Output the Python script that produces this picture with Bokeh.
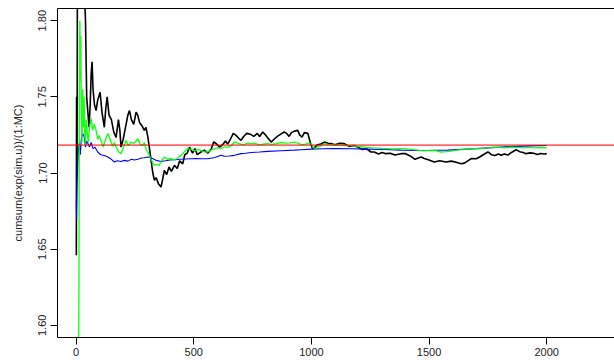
from bokeh.plotting import figure
from bokeh.models import LinearAxis, FixedTicker, Range1d, Span
from bokeh.embed import file_html
from bokeh.resources import INLINE

# ---- data (index, running mean) ----
black_i = [1, 2, 4, 6, 10, 15, 20, 25, 30, 35, 40, 43, 45, 50, 55, 60, 64, 68, 72, 78, 85, 92, 102, 110, 120, 126,
           132, 140, 150, 160, 170, 180, 186, 191, 200, 210, 220, 227, 235, 245, 255, 262, 270, 280, 290, 297, 305,
           312, 319, 326, 333, 340, 350, 361, 368, 375, 385, 395, 405, 418, 430, 440, 453, 462, 472, 482, 495, 505,
           515, 531, 545, 560, 575, 585, 595, 610, 625, 635, 644, 655, 668, 680, 690, 701, 712, 725, 740, 755, 770,
           780, 793, 805, 815, 829, 840, 855, 870, 884, 895, 905, 915, 928, 942, 950, 960, 970, 985, 995, 1005, 1012,
           1025, 1040, 1055, 1070, 1083, 1100, 1120, 1140, 1160, 1180, 1197, 1215, 1235, 1253, 1267, 1285, 1300, 1317,
           1335, 1355, 1381, 1400, 1420, 1440, 1466, 1480, 1500, 1522, 1545, 1572, 1595, 1615, 1636, 1650, 1665, 1680,
           1700, 1715, 1730, 1750, 1765, 1780, 1795, 1806, 1820, 1835, 1850, 1870, 1885, 1900, 1912, 1930, 1945, 1960,
           1975, 1990, 2000]
black_v = [1.646, 1.750, 1.700, 1.860, 1.920, 1.880, 1.840, 1.830, 1.860, 1.820, 1.800, 1.770, 1.750, 1.740, 1.730,
           1.745, 1.765, 1.773, 1.755, 1.745, 1.741, 1.748, 1.753, 1.740, 1.730, 1.742, 1.750, 1.738, 1.735, 1.727,
           1.7234, 1.735, 1.728, 1.717, 1.722, 1.730, 1.738, 1.741, 1.735, 1.732, 1.740, 1.738, 1.733, 1.731, 1.728,
           1.730, 1.7236, 1.716, 1.708, 1.700, 1.6952, 1.697, 1.693, 1.6908, 1.696, 1.7017, 1.699, 1.704, 1.701,
           1.705, 1.703, 1.708, 1.706, 1.712, 1.713, 1.717, 1.713, 1.716, 1.712, 1.7138, 1.715, 1.713, 1.716, 1.7205,
           1.7193, 1.717, 1.719, 1.721, 1.719, 1.722, 1.726, 1.7247, 1.723, 1.7214, 1.724, 1.726, 1.7255, 1.724, 1.726,
           1.724, 1.7269, 1.725, 1.723, 1.7203, 1.722, 1.724, 1.7255, 1.7269, 1.726, 1.724, 1.7265, 1.7275, 1.728,
           1.725, 1.7235, 1.7265, 1.726, 1.720, 1.716, 1.7165, 1.7185, 1.719, 1.7203, 1.7195, 1.7193, 1.7185, 1.7195,
           1.7193, 1.7175, 1.718, 1.717, 1.7155, 1.7158, 1.7138, 1.7138, 1.7125, 1.7135, 1.7127, 1.713, 1.7118,
           1.7127, 1.7127, 1.7112, 1.709, 1.7105, 1.7095, 1.7085, 1.7072, 1.708, 1.7072, 1.7078, 1.707, 1.7061,
           1.7065, 1.708, 1.7095, 1.7094, 1.7105, 1.712, 1.7138, 1.712, 1.7115, 1.7125, 1.7116, 1.7125, 1.7118,
           1.7135, 1.7153, 1.714, 1.7135, 1.7127, 1.7132, 1.713, 1.7122, 1.7128, 1.7125, 1.7127]

green_i = [1, 3, 6, 9, 12, 14, 16, 18, 20, 22, 25, 28, 31, 34, 37, 40, 43, 47, 52, 57, 64, 70, 77, 85, 92, 98, 106,
           115, 125, 135, 145, 155, 163, 170, 180, 191, 200, 212, 222, 234, 245, 255, 262, 272, 282, 290, 297, 305,
           315, 325, 333, 345, 353, 362, 375, 390, 405, 420, 433, 446, 460, 474, 490, 505, 520, 540, 560, 580, 600,
           615, 629, 644, 660, 673, 693, 710, 727, 744, 760, 780, 800, 814, 830, 850, 871, 890, 910, 928, 945, 960,
           975, 990, 1000, 1008, 1020, 1030, 1042, 1055, 1070, 1090, 1110, 1130, 1150, 1168, 1190, 1210, 1235, 1260,
           1285, 1305, 1324, 1350, 1375, 1400, 1425, 1450, 1475, 1500, 1522, 1550, 1575, 1600, 1625, 1650, 1675,
           1700, 1721, 1750, 1775, 1800, 1825, 1848, 1875, 1900, 1925, 1950, 1975, 2000]
green_v = [1.40, 1.45, 1.50, 1.55, 1.62, 1.75, 1.80, 1.76, 1.79, 1.74, 1.72, 1.755, 1.73, 1.75, 1.725, 1.718, 1.735,
           1.727, 1.720, 1.730, 1.7358, 1.728, 1.732, 1.728, 1.722, 1.7247, 1.7214, 1.717, 1.722, 1.726, 1.722,
           1.7175, 1.720, 1.717, 1.714, 1.7127, 1.716, 1.7214, 1.718, 1.7203, 1.7195, 1.721, 1.7225, 1.719, 1.718,
           1.720, 1.716, 1.7138, 1.710, 1.707, 1.705, 1.7055, 1.705, 1.708, 1.7105, 1.709, 1.7095, 1.7085, 1.710,
           1.7116, 1.714, 1.716, 1.7155, 1.7145, 1.7155, 1.714, 1.7138, 1.7155, 1.7165, 1.7162, 1.717, 1.717, 1.718,
           1.7203, 1.7193, 1.7185, 1.7195, 1.7193, 1.7195, 1.7185, 1.719, 1.7193, 1.7188, 1.7192, 1.720, 1.7196,
           1.7198, 1.7203, 1.7195, 1.7185, 1.719, 1.7195, 1.719, 1.7165, 1.716, 1.7172, 1.718, 1.7193, 1.7188,
           1.7185, 1.7183, 1.7182, 1.718, 1.7181, 1.7175, 1.7172, 1.7168, 1.7165, 1.7163, 1.716, 1.716, 1.7158,
           1.716, 1.716, 1.7155, 1.715, 1.7145, 1.7148, 1.7149, 1.7138, 1.714, 1.7145, 1.7152, 1.7155, 1.7158,
           1.716, 1.716, 1.7165, 1.717, 1.7168, 1.7165, 1.717, 1.7168, 1.7165, 1.7168, 1.7165, 1.7167, 1.7166]

blue_i = [1, 2, 4, 7, 10, 14, 18, 22, 28, 34, 40, 45, 50, 57, 64, 72, 80, 92, 105, 120, 135, 150, 163, 175, 190, 205,
          220, 235, 248, 262, 278, 290, 305, 320, 340, 361, 380, 400, 418, 440, 465, 489, 510, 531, 560, 590, 616,
          630, 650, 673, 701, 720, 744, 780, 814, 870, 928, 956, 1000, 1050, 1097, 1170, 1239, 1310, 1381, 1450,
          1520, 1579, 1640, 1700, 1750, 1806, 1870, 1930, 2000]
blue_v = [1.682, 1.670, 1.690, 1.705, 1.715, 1.720, 1.712, 1.722, 1.726, 1.724, 1.717, 1.721, 1.7193, 1.717, 1.720,
          1.716, 1.717, 1.7138, 1.712, 1.7115, 1.7105, 1.709, 1.7072, 1.708, 1.7075, 1.7083, 1.7078, 1.709, 1.7085,
          1.709, 1.7098, 1.710, 1.7105, 1.7098, 1.7083, 1.7076, 1.708, 1.7085, 1.7087, 1.709, 1.7092, 1.7094,
          1.7095, 1.7094, 1.7094, 1.7102, 1.7116, 1.711, 1.7112, 1.7116, 1.7127, 1.713, 1.7135, 1.7138, 1.7142,
          1.7146, 1.715, 1.7153, 1.7157, 1.7159, 1.716, 1.7159, 1.7157, 1.7154, 1.715, 1.7148, 1.7149, 1.715,
          1.7155, 1.716, 1.7165, 1.717, 1.7175, 1.7178, 1.7181]

true_value = 1.718282  # e - 1
x_ticks = [0, 500, 1000, 1500, 2000]
y_ticks = [1.60, 1.65, 1.70, 1.75, 1.80]
y_label = "cumsum(exp(sim.u))/(1:MC)"

FONT = "Liberation Sans"

p = figure(width=614, height=360, output_backend="svg", toolbar_location=None,
           x_range=Range1d(-79, 2288), y_range=Range1d(1.592, 1.808),
           min_border_left=57, min_border_right=0, min_border_top=8, min_border_bottom=23,
           x_axis_location=None, y_axis_location=None)
p.outline_line_color = None
p.grid.visible = False
p.background_fill_color = "white"
p.border_fill_color = "white"

ax_b = LinearAxis(ticker=FixedTicker(ticks=x_ticks))
ax_l = LinearAxis(ticker=FixedTicker(ticks=y_ticks), axis_label=y_label)
ax_t = LinearAxis(ticker=FixedTicker(ticks=[]))
for ax in (ax_b, ax_l, ax_t):
    ax.axis_line_color = "black"
    ax.axis_line_width = 1
    ax.major_tick_line_color = "black"
    ax.major_tick_out = 7
    ax.major_tick_in = 0
    ax.minor_tick_line_color = None
    ax.major_label_text_font = FONT
    ax.major_label_text_font_size = "11px"
    ax.major_label_text_color = "#222222"
    ax.major_label_standoff = 4
ax_b.major_label_standoff = 3
ax_l.major_label_orientation = "vertical"
ax_l.axis_label_text_font = FONT
ax_l.axis_label_text_font_size = "11px"
ax_l.axis_label_text_font_style = "normal"
ax_l.axis_label_text_color = "#222222"
ax_l.axis_label_standoff = 12
ax_l.major_label_overrides = {v: f"{v:.2f}" for v in y_ticks}
ax_t.major_tick_out = 0
ax_t.major_label_text_font_size = "0px"
ax_t.major_label_standoff = 0
p.add_layout(ax_b, "below")
p.add_layout(ax_l, "left")
p.add_layout(ax_t, "above")

p.line(black_i, black_v, line_color="black", line_width=1.6)
p.line(blue_i, blue_v, line_color="blue", line_width=1.1)
p.line(green_i, green_v, line_color="#00ff00", line_alpha=0.9, line_width=1.4)
p.add_layout(Span(location=true_value, dimension="width", line_color="red", line_alpha=0.6, line_width=1.6))

open("out.html", "w").write(file_html(p, INLINE))
